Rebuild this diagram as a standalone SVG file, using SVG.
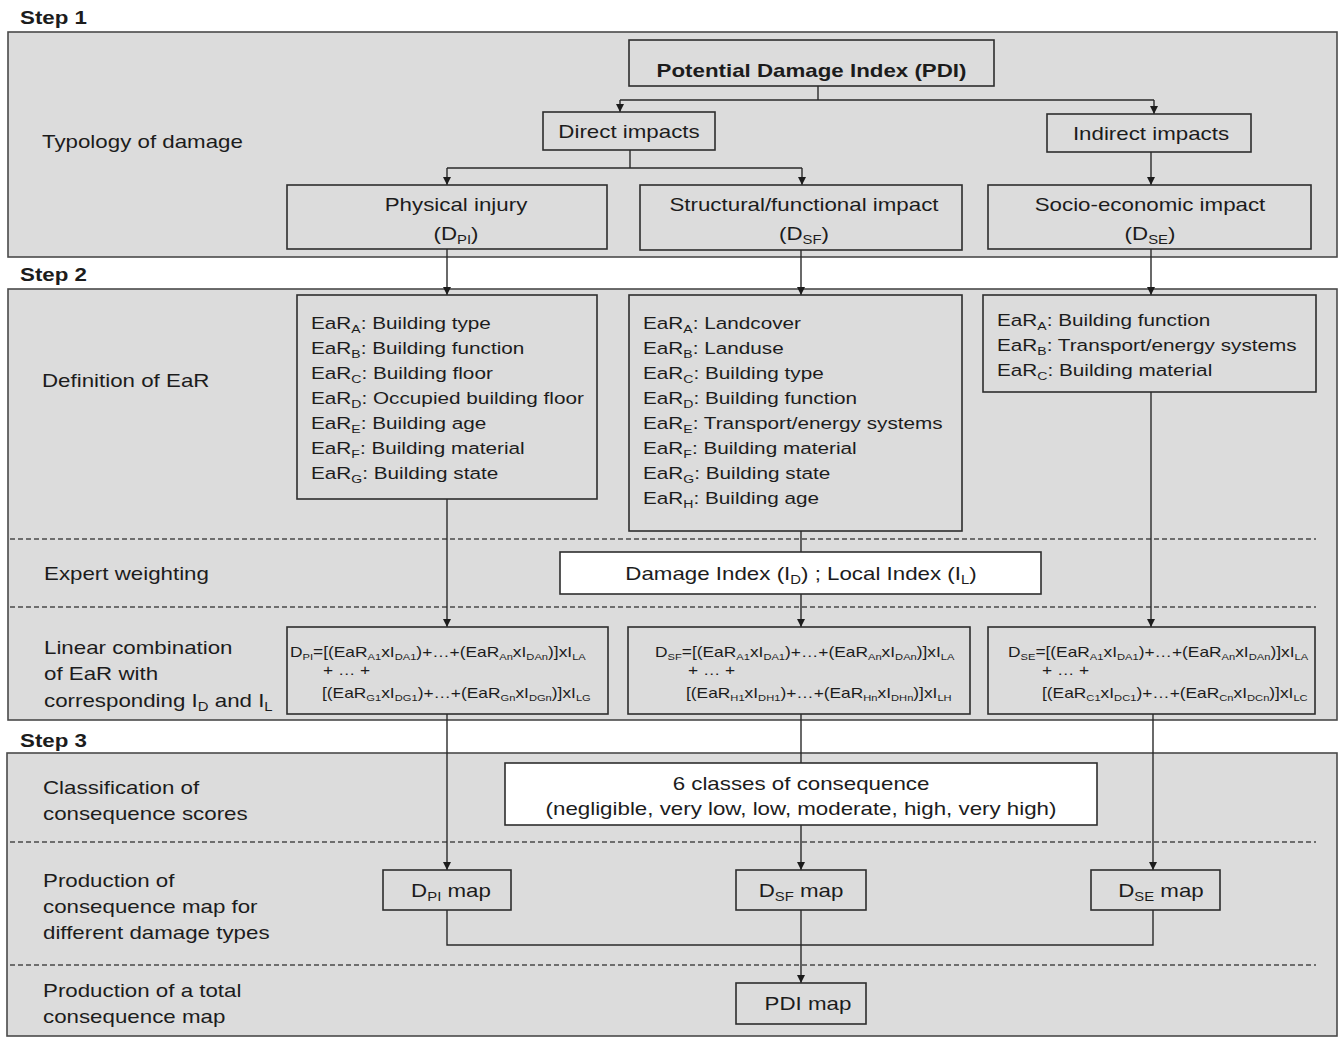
<svg xmlns="http://www.w3.org/2000/svg" width="1341" height="1038" viewBox="0 0 1341 1038">
<style>
.t{font-family:"Liberation Sans",Arial,sans-serif;fill:#1c1c1c}
.l{font-size:18px}
.b{font-weight:bold}
.e{font-size:17px}
.s12{font-size:12px}
.s11{font-size:11.5px}
.f{font-size:14px}
.fs{font-size:9px}
.m{text-anchor:middle}
.panel{fill:#dcdcdc;stroke:#4a4a4a;stroke-width:1.6}
.box{fill:#dcdcdc;stroke:#2e2e2e;stroke-width:1.6}
.wbox{fill:#ffffff;stroke:#2e2e2e;stroke-width:1.6}
.dash{stroke:#4a4a4a;stroke-width:1.4;stroke-dasharray:5 3;fill:none}
.c{fill:none;stroke:#2a2a2a;stroke-width:1.4}
.a{marker-end:url(#arr)}
</style>
<defs>
<marker id="arr" viewBox="0 0 10 10" refX="10" refY="5" markerWidth="10" markerHeight="8" markerUnits="userSpaceOnUse" orient="auto">
<path d="M0,0 L10,5 L0,10 z" fill="#1c1c1c"/>
</marker>
</defs>
<rect width="1341" height="1038" fill="#ffffff"/>

<g id="panels">
<rect class="panel" x="8" y="32" width="1329" height="225"/>
<rect class="panel" x="8" y="289" width="1329" height="431"/>
<rect class="panel" x="7" y="753" width="1330" height="283"/>
<line class="dash" x1="10" y1="539" x2="1316" y2="539"/>
<line class="dash" x1="10" y1="607" x2="1316" y2="607"/>
<line class="dash" x1="10" y1="842" x2="1316" y2="842"/>
<line class="dash" x1="10" y1="965" x2="1316" y2="965"/>
</g>

<g id="step-labels">
<text class="t l b" transform="matrix(1.24 0 0 1 20 24)">Step 1</text>
<text class="t l b" transform="matrix(1.24 0 0 1 20 281)">Step 2</text>
<text class="t l b" transform="matrix(1.24 0 0 1 20 747)">Step 3</text>
</g>

<g id="row-labels">
<text class="t l" transform="matrix(1.24 0 0 1 42 148)">Typology of damage</text>
<text class="t l" transform="matrix(1.24 0 0 1 42 387)">Definition of EaR</text>
<text class="t l" transform="matrix(1.24 0 0 1 44 580)">Expert weighting</text>
<text class="t l" transform="matrix(1.24 0 0 1 44 654)">Linear combination</text>
<text class="t l" transform="matrix(1.24 0 0 1 44 680)">of EaR with</text>
<text class="t l" transform="matrix(1.24 0 0 1 44 707)">corresponding I<tspan class="s12" dy="4">D</tspan><tspan dy="-4"> and I</tspan><tspan class="s12" dy="4">L</tspan></text>
<text class="t l" transform="matrix(1.24 0 0 1 43 794)">Classification of</text>
<text class="t l" transform="matrix(1.24 0 0 1 43 820)">consequence scores</text>
<text class="t l" transform="matrix(1.24 0 0 1 43 887)">Production of</text>
<text class="t l" transform="matrix(1.24 0 0 1 43 913)">consequence map for</text>
<text class="t l" transform="matrix(1.24 0 0 1 43 939)">different damage types</text>
<text class="t l" transform="matrix(1.24 0 0 1 43 997)">Production of a total</text>
<text class="t l" transform="matrix(1.24 0 0 1 43 1023)">consequence map</text>
</g>

<g id="connectors">
<path class="c" d="M818,86 V100 M620,100 H1154"/>
<path class="c a" d="M620,100 V112"/>
<path class="c a" d="M1154,100 V114"/>
<path class="c" d="M630,150 V168 M447,168 H802"/>
<path class="c a" d="M447,168 V185"/>
<path class="c a" d="M802,168 V185"/>
<path class="c a" d="M1151,152 V185"/>
<path class="c a" d="M447,249 V295"/>
<path class="c a" d="M801,250 V295"/>
<path class="c a" d="M1151,249 V295"/>
<path class="c a" d="M447,499 V627"/>
<path class="c" d="M801,531 V552"/>
<path class="c a" d="M801,594 V627"/>
<path class="c a" d="M1151,392 V627"/>
<path class="c a" d="M447,714 V870"/>
<path class="c" d="M801,714 V763"/>
<path class="c a" d="M801,825 V870"/>
<path class="c a" d="M1153,714 V870"/>
<path class="c" d="M447,910 V945 H1153 V910"/>
<path class="c a" d="M801,910 V983"/>
</g>

<g id="pdi">
<rect class="box" x="629" y="40" width="365" height="46"/>
<text class="t l b m" transform="matrix(1.24 0 0 1 811.5 77)">Potential Damage Index (PDI)</text>
</g>
<g id="direct">
<rect class="box" x="543" y="112" width="172" height="38"/>
<text class="t l m" transform="matrix(1.24 0 0 1 629 138)">Direct impacts</text>
</g>
<g id="indirect">
<rect class="box" x="1047" y="114" width="204" height="38"/>
<text class="t l m" transform="matrix(1.24 0 0 1 1151 140)">Indirect impacts</text>
</g>
<g id="physical">
<rect class="box" x="287" y="185" width="320" height="64"/>
<text class="t l m" transform="matrix(1.24 0 0 1 456 211)">Physical injury</text>
<text class="t l m" transform="matrix(1.24 0 0 1 456 240)">(D<tspan class="s12" dy="4">PI</tspan><tspan dy="-4">)</tspan></text>
</g>
<g id="structural">
<rect class="box" x="640" y="185" width="322" height="65"/>
<text class="t l m" transform="matrix(1.24 0 0 1 804 211)">Structural/functional impact</text>
<text class="t l m" transform="matrix(1.24 0 0 1 804 240)">(D<tspan class="s12" dy="4">SF</tspan><tspan dy="-4">)</tspan></text>
</g>
<g id="socio">
<rect class="box" x="988" y="185" width="323" height="64"/>
<text class="t l m" transform="matrix(1.24 0 0 1 1150 211)">Socio-economic impact</text>
<text class="t l m" transform="matrix(1.24 0 0 1 1150 240)">(D<tspan class="s12" dy="4">SE</tspan><tspan dy="-4">)</tspan></text>
</g>

<g id="ear-pi">
<rect class="box" x="297" y="295" width="300" height="204"/>
<text class="t e" transform="matrix(1.22 0 0 1 311 329)">EaR<tspan class="s11" dy="4">A</tspan><tspan dy="-4">: Building type</tspan></text>
<text class="t e" transform="matrix(1.22 0 0 1 311 354)">EaR<tspan class="s11" dy="4">B</tspan><tspan dy="-4">: Building function</tspan></text>
<text class="t e" transform="matrix(1.22 0 0 1 311 379)">EaR<tspan class="s11" dy="4">C</tspan><tspan dy="-4">: Building floor</tspan></text>
<text class="t e" transform="matrix(1.22 0 0 1 311 404)">EaR<tspan class="s11" dy="4">D</tspan><tspan dy="-4">: Occupied building floor</tspan></text>
<text class="t e" transform="matrix(1.22 0 0 1 311 429)">EaR<tspan class="s11" dy="4">E</tspan><tspan dy="-4">: Building age</tspan></text>
<text class="t e" transform="matrix(1.22 0 0 1 311 454)">EaR<tspan class="s11" dy="4">F</tspan><tspan dy="-4">: Building material</tspan></text>
<text class="t e" transform="matrix(1.22 0 0 1 311 479)">EaR<tspan class="s11" dy="4">G</tspan><tspan dy="-4">: Building state</tspan></text>
</g>
<g id="ear-sf">
<rect class="box" x="629" y="295" width="333" height="236"/>
<text class="t e" transform="matrix(1.22 0 0 1 643 329)">EaR<tspan class="s11" dy="4">A</tspan><tspan dy="-4">: Landcover</tspan></text>
<text class="t e" transform="matrix(1.22 0 0 1 643 354)">EaR<tspan class="s11" dy="4">B</tspan><tspan dy="-4">: Landuse</tspan></text>
<text class="t e" transform="matrix(1.22 0 0 1 643 379)">EaR<tspan class="s11" dy="4">C</tspan><tspan dy="-4">: Building type</tspan></text>
<text class="t e" transform="matrix(1.22 0 0 1 643 404)">EaR<tspan class="s11" dy="4">D</tspan><tspan dy="-4">: Building function</tspan></text>
<text class="t e" transform="matrix(1.22 0 0 1 643 429)">EaR<tspan class="s11" dy="4">E</tspan><tspan dy="-4">: Transport/energy systems</tspan></text>
<text class="t e" transform="matrix(1.22 0 0 1 643 454)">EaR<tspan class="s11" dy="4">F</tspan><tspan dy="-4">: Building material</tspan></text>
<text class="t e" transform="matrix(1.22 0 0 1 643 479)">EaR<tspan class="s11" dy="4">G</tspan><tspan dy="-4">: Building state</tspan></text>
<text class="t e" transform="matrix(1.22 0 0 1 643 504)">EaR<tspan class="s11" dy="4">H</tspan><tspan dy="-4">: Building age</tspan></text>
</g>
<g id="ear-se">
<rect class="box" x="983" y="295" width="333" height="97"/>
<text class="t e" transform="matrix(1.22 0 0 1 997 326)">EaR<tspan class="s11" dy="4">A</tspan><tspan dy="-4">: Building function</tspan></text>
<text class="t e" transform="matrix(1.22 0 0 1 997 351)">EaR<tspan class="s11" dy="4">B</tspan><tspan dy="-4">: Transport/energy systems</tspan></text>
<text class="t e" transform="matrix(1.22 0 0 1 997 376)">EaR<tspan class="s11" dy="4">C</tspan><tspan dy="-4">: Building material</tspan></text>
</g>

<g id="indices">
<rect class="wbox" x="560" y="552" width="481" height="42"/>
<text class="t l m" transform="matrix(1.24 0 0 1 801 580)">Damage Index (I<tspan class="s12" dy="4">D</tspan><tspan dy="-4">) ; Local Index (I</tspan><tspan class="s12" dy="4">L</tspan><tspan dy="-4">)</tspan></text>
</g>

<g id="formula-pi">
<rect class="box" x="287" y="627" width="321" height="87"/>
<text class="t f" transform="matrix(1.24 0 0 1 290 657)">D<tspan class="fs" dy="3">PI</tspan><tspan dy="-3">=[(EaR</tspan><tspan class="fs" dy="3">A1</tspan><tspan dy="-3">xI</tspan><tspan class="fs" dy="3">DA1</tspan><tspan dy="-3">)+…+(EaR</tspan><tspan class="fs" dy="3">An</tspan><tspan dy="-3">xI</tspan><tspan class="fs" dy="3">DAn</tspan><tspan dy="-3">)]xI</tspan><tspan class="fs" dy="3">LA</tspan></text>
<text class="t f" transform="matrix(1.24 0 0 1 323 675)">+ … +</text>
<text class="t f" transform="matrix(1.24 0 0 1 322 698)">[(EaR<tspan class="fs" dy="3">G1</tspan><tspan dy="-3">xI</tspan><tspan class="fs" dy="3">DG1</tspan><tspan dy="-3">)+…+(EaR</tspan><tspan class="fs" dy="3">Gn</tspan><tspan dy="-3">xI</tspan><tspan class="fs" dy="3">DGn</tspan><tspan dy="-3">)]xI</tspan><tspan class="fs" dy="3">LG</tspan></text>
</g>
<g id="formula-sf">
<rect class="box" x="628" y="627" width="342" height="87"/>
<text class="t f" transform="matrix(1.24 0 0 1 655 657)">D<tspan class="fs" dy="3">SF</tspan><tspan dy="-3">=[(EaR</tspan><tspan class="fs" dy="3">A1</tspan><tspan dy="-3">xI</tspan><tspan class="fs" dy="3">DA1</tspan><tspan dy="-3">)+…+(EaR</tspan><tspan class="fs" dy="3">An</tspan><tspan dy="-3">xI</tspan><tspan class="fs" dy="3">DAn</tspan><tspan dy="-3">)]xI</tspan><tspan class="fs" dy="3">LA</tspan></text>
<text class="t f" transform="matrix(1.24 0 0 1 688 675)">+ … +</text>
<text class="t f" transform="matrix(1.24 0 0 1 686 698)">[(EaR<tspan class="fs" dy="3">H1</tspan><tspan dy="-3">xI</tspan><tspan class="fs" dy="3">DH1</tspan><tspan dy="-3">)+…+(EaR</tspan><tspan class="fs" dy="3">Hn</tspan><tspan dy="-3">xI</tspan><tspan class="fs" dy="3">DHn</tspan><tspan dy="-3">)]xI</tspan><tspan class="fs" dy="3">LH</tspan></text>
</g>
<g id="formula-se">
<rect class="box" x="988" y="627" width="327" height="87"/>
<text class="t f" transform="matrix(1.24 0 0 1 1008 657)">D<tspan class="fs" dy="3">SE</tspan><tspan dy="-3">=[(EaR</tspan><tspan class="fs" dy="3">A1</tspan><tspan dy="-3">xI</tspan><tspan class="fs" dy="3">DA1</tspan><tspan dy="-3">)+…+(EaR</tspan><tspan class="fs" dy="3">An</tspan><tspan dy="-3">xI</tspan><tspan class="fs" dy="3">DAn</tspan><tspan dy="-3">)]xI</tspan><tspan class="fs" dy="3">LA</tspan></text>
<text class="t f" transform="matrix(1.24 0 0 1 1042 675)">+ … +</text>
<text class="t f" transform="matrix(1.24 0 0 1 1042 698)">[(EaR<tspan class="fs" dy="3">C1</tspan><tspan dy="-3">xI</tspan><tspan class="fs" dy="3">DC1</tspan><tspan dy="-3">)+…+(EaR</tspan><tspan class="fs" dy="3">Cn</tspan><tspan dy="-3">xI</tspan><tspan class="fs" dy="3">DCn</tspan><tspan dy="-3">)]xI</tspan><tspan class="fs" dy="3">LC</tspan></text>
</g>

<g id="classes">
<rect class="wbox" x="505" y="763" width="592" height="62"/>
<text class="t l m" transform="matrix(1.24 0 0 1 801 790)">6 classes of consequence</text>
<text class="t l m" transform="matrix(1.24 0 0 1 801 815)">(negligible, very low, low, moderate, high, very high)</text>
</g>

<g id="map-pi">
<rect class="box" x="383" y="870" width="128" height="40"/>
<text class="t l m" transform="matrix(1.24 0 0 1 451 897)">D<tspan class="s12" dy="4">PI</tspan><tspan dy="-4"> map</tspan></text>
</g>
<g id="map-sf">
<rect class="box" x="736" y="870" width="130" height="40"/>
<text class="t l m" transform="matrix(1.24 0 0 1 801 897)">D<tspan class="s12" dy="4">SF</tspan><tspan dy="-4"> map</tspan></text>
</g>
<g id="map-se">
<rect class="box" x="1091" y="870" width="129" height="40"/>
<text class="t l m" transform="matrix(1.24 0 0 1 1161 897)">D<tspan class="s12" dy="4">SE</tspan><tspan dy="-4"> map</tspan></text>
</g>
<g id="map-pdi">
<rect class="box" x="736" y="983" width="130" height="41"/>
<text class="t l m" transform="matrix(1.24 0 0 1 808 1010)">PDI map</text>
</g>
</svg>
